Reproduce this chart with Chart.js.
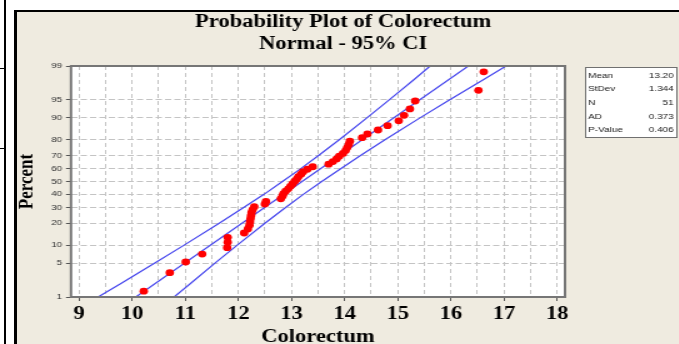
<!DOCTYPE html>
<html>
<head>
<meta charset="utf-8">
<title>Probability Plot of Colorectum</title>
<script src="https://cdn.jsdelivr.net/npm/chart.js@4.4.1/dist/chart.umd.min.js"></script>
<style>
  html, body { margin: 0; padding: 0; background: #fff; }
  #page { position: relative; width: 679px; height: 344px; overflow: hidden; background: #fff; }
  .rule { position: absolute; background: #000; }
  #frame {
    position: absolute; left: 14px; top: 10px; right: -10px; bottom: -10px;
    background: #efebe0; border-top: 2px solid #000; border-left: 3px solid #000;
  }
  /* the source picture is stretched sideways, so the canvas is too */
  #plot { position: absolute; left: 0; top: 0; transform: scaleX(1.25); transform-origin: 0 0; }
</style>
</head>
<body>
<div id="page">
  <div class="rule" style="left:4px; top:0; width:2px; height:344px;"></div>
  <div class="rule" style="left:0; top:68px; width:5px; height:1px;"></div>
  <div class="rule" style="left:0; top:148px; width:5px; height:1px;"></div>
  <div id="frame"></div>
  <canvas id="plot" width="544" height="344"></canvas>
</div>
<script>
// Colorectum values, sorted (x axis)
const colorectum = [
  10.22, 10.71, 11.01, 11.32, 11.79, 11.80, 11.80, 12.11, 12.18, 12.21,
  12.22, 12.23, 12.24, 12.25, 12.27, 12.30, 12.50, 12.52, 12.80, 12.83,
  12.85, 12.89, 12.94, 12.98, 13.02, 13.06, 13.10, 13.13, 13.18, 13.22,
  13.30, 13.40, 13.70, 13.78, 13.85, 13.90, 13.97, 14.02, 14.05, 14.08,
  14.10, 14.33, 14.43, 14.63, 14.81, 15.02, 15.12, 15.23, 15.33, 16.52,
  16.62
];
// plotted percent for each point
const percentRank = [
  1.36, 3.31, 5.25, 7.20, 9.14, 11.09, 13.04, 14.98, 16.93, 18.87,
  20.82, 22.76, 24.71, 26.65, 28.60, 30.54, 32.49, 34.44, 36.38, 38.33,
  40.27, 42.22, 44.16, 46.11, 48.05, 50.00, 51.95, 53.89, 55.84, 57.78,
  59.73, 61.67, 63.62, 65.56, 67.51, 69.46, 71.40, 73.35, 75.29, 77.24,
  79.18, 81.13, 83.07, 85.02, 86.96, 88.91, 90.86, 92.80, 94.75, 96.69,
  98.64
];

// fitted line and 95% CI bands
const fitPct = [1, 99];
const fitX = [10.07, 16.33];
const bandPct = [1, 2, 5, 10, 20, 30, 40, 50, 60, 70, 80, 90, 95, 98, 99];
const lowerX = [9.36, 9.79, 10.42, 10.98, 11.64, 12.10, 12.49, 12.83, 13.17, 13.51, 13.90, 14.42, 14.84, 15.31, 15.61];
const upperX = [10.79, 11.10, 11.56, 11.98, 12.50, 12.89, 13.23, 13.57, 13.92, 14.30, 14.76, 15.42, 15.98, 16.62, 17.04];

// axes
const xTicks = [9, 10, 11, 12, 13, 14, 15, 16, 17, 18];
const yTicks = [1, 5, 10, 20, 30, 40, 50, 60, 70, 80, 90, 95, 99];

// summary table
const statLabels = ['Mean', 'StDev', 'N', 'AD', 'P-Value'];
const statValues = ['13.20', '1.344', '51', '0.373', '0.406'];

const serif = '"Liberation Serif", "Times New Roman", serif';
const sans = '"Liberation Sans", Arial, sans-serif';
const blue = '#4646ee';

// inverse normal cdf (Acklam), used to put percent on a probability scale
function probit(p) {
    const a = [-3.969683028665376e+01, 2.209460984245205e+02, -2.759285104469687e+02, 1.383577518672690e+02, -3.066479806614716e+01, 2.506628277459239e+00];
    const b = [-5.447609879822406e+01, 1.615858368580409e+02, -1.556989798598866e+02, 6.680131188771972e+01, -1.328068155288572e+01];
    const c = [-7.784894002430293e-03, -3.223964580411365e-01, -2.400758277161838e+00, -2.549732539343734e+00, 4.374664141464968e+00, 2.938163982698783e+00];
    const d = [7.784695709041462e-03, 3.224671290700398e-01, 2.445134137142996e+00, 3.754408661907416e+00];
    const pl = 0.02425;
    let q, r;
    if (p < pl) {
        q = Math.sqrt(-2 * Math.log(p));
        return (((((c[0] * q + c[1]) * q + c[2]) * q + c[3]) * q + c[4]) * q + c[5]) / ((((d[0] * q + d[1]) * q + d[2]) * q + d[3]) * q + 1);
    }
    if (p <= 1 - pl) {
        q = p - 0.5; r = q * q;
        return (((((a[0] * r + a[1]) * r + a[2]) * r + a[3]) * r + a[4]) * r + a[5]) * q / (((((b[0] * r + b[1]) * r + b[2]) * r + b[3]) * r + b[4]) * r + 1);
    }
    q = Math.sqrt(-2 * Math.log(1 - p));
    return -(((((c[0] * q + c[1]) * q + c[2]) * q + c[3]) * q + c[4]) * q + c[5]) / ((((d[0] * q + d[1]) * q + d[2]) * q + d[3]) * q + 1);
}

function toPoints(xs, pcts) {
    return xs.map((x, i) => ({ x: x, y: probit(pcts[i] / 100) }));
}

// white plot area and grey border round it
const plotFrame = {
    id: 'plotFrame',
    beforeDraw(chart) {
        const { ctx, chartArea: a } = chart;
        ctx.save();
        ctx.fillStyle = '#fff';
        ctx.fillRect(a.left, a.top, a.width, a.height);
        ctx.restore();
    },
    afterDraw(chart) {
        const { ctx, chartArea: a } = chart;
        ctx.save();
        ctx.strokeStyle = '#767676';
        ctx.lineWidth = 2;
        ctx.strokeRect(a.left, a.top, a.width, a.height);
        ctx.restore();
    }
};

// Mean / StDev / N / AD / P-Value box
const statsBox = {
    id: 'statsBox',
    afterDraw(chart) {
        const ctx = chart.ctx;
        const left = 468, top = 67, w = 74, h = 71;
        ctx.save();
        ctx.fillStyle = '#fff';
        ctx.fillRect(left, top, w, h);
        ctx.strokeStyle = '#707070';
        ctx.lineWidth = 1;
        ctx.strokeRect(left + 0.5, top + 0.5, w - 1, h - 1);
        ctx.font = '8px ' + sans;
        ctx.fillStyle = '#1a1a1a';
        ctx.textBaseline = 'middle';
        statLabels.forEach((label, i) => {
            const y = top + 8.5 + i * 13.6;
            ctx.textAlign = 'left';
            ctx.fillText(label, left + 2.5, y);
            ctx.textAlign = 'right';
            ctx.fillText(statValues[i], left + w - 3, y);
        });
        ctx.restore();
    }
};

const ctx = document.getElementById('plot').getContext('2d');
const lastY = yTicks.length - 1;

new Chart(ctx, {
    type: 'scatter',
    data: {
        datasets: [
            {
                label: 'Colorectum',
                data: toPoints(colorectum, percentRank),
                backgroundColor: '#ff0000',
                borderWidth: 0,
                pointRadius: 3.4,
                pointHoverRadius: 3.4
            },
            {
                label: 'Fit',
                data: toPoints(fitX, fitPct),
                showLine: true,
                borderColor: blue,
                borderWidth: 1.2,
                pointRadius: 0
            },
            {
                label: 'Lower 95% CI',
                data: toPoints(lowerX, bandPct),
                showLine: true,
                borderColor: blue,
                borderWidth: 1.2,
                pointRadius: 0
            },
            {
                label: 'Upper 95% CI',
                data: toPoints(upperX, bandPct),
                showLine: true,
                borderColor: blue,
                borderWidth: 1.2,
                pointRadius: 0
            }
        ]
    },
    options: {
        responsive: false,
        animation: false,
        layout: { padding: { left: 5, right: 0, top: 0, bottom: 0 } },
        plugins: {
            legend: { display: false },
            tooltip: { enabled: false },
            title: {
                display: true,
                text: ['Probability Plot of Colorectum', 'Normal - 95% CI'],
                color: '#000',
                font: { family: serif, size: 18, weight: 'bold' },
                padding: { top: 12, bottom: 10.8 }
            }
        },
        scales: {
            x: {
                type: 'linear',
                min: 8.85,
                max: 18.15,
                afterBuildTicks: scale => {
                    // grid every half unit, labels on whole units
                    const t = [];
                    xTicks.forEach((v, i) => {
                        t.push({ value: v });
                        if (i < xTicks.length - 1) t.push({ value: v + 0.5 });
                    });
                    scale.ticks = t;
                },
                afterFit: scale => { scale.height = 47; },
                ticks: {
                    callback: v => (Number.isInteger(v) ? v : ''),
                    autoSkip: false,
                    maxRotation: 0,
                    padding: 3,
                    color: '#000',
                    font: { family: serif, size: 18, weight: 'bold' }
                },
                grid: {
                    color: '#c4c4c4',
                    tickColor: c => (c.tick && Number.isInteger(c.tick.value) ? '#555' : 'rgba(0,0,0,0)'),
                    tickLength: 4
                },
                border: { display: false, dash: [4, 3] },
                title: {
                    display: true,
                    text: 'Colorectum',
                    color: '#000',
                    font: { family: serif, size: 18, weight: 'bold' },
                    padding: { top: 0, bottom: -4 }
                }
            },
            y: {
                type: 'linear',
                min: probit(yTicks[0] / 100),
                max: probit(yTicks[lastY] / 100),
                afterBuildTicks: scale => {
                    scale.ticks = yTicks.map(p => ({ value: probit(p / 100) }));
                },
                afterFit: scale => { scale.width = 51.8; },
                ticks: {
                    callback: (v, i) => yTicks[i],
                    autoSkip: false,
                    padding: 3,
                    color: '#333',
                    font: { family: sans, size: 8 }
                },
                grid: {
                    color: c => (c.index === 0 || c.index === lastY ? 'rgba(0,0,0,0)' : '#c4c4c4'),
                    tickColor: '#555',
                    tickLength: 4
                },
                border: { display: false, dash: [5, 2.5] },
                title: {
                    display: true,
                    text: 'Percent',
                    color: '#000',
                    font: { family: serif, size: 17, weight: 'bold' },
                    padding: { top: 6.4, bottom: 0 }
                }
            },
            // empty axis that keeps room on the right for the summary table
            side: {
                type: 'linear',
                position: 'right',
                display: true,
                ticks: { display: false },
                grid: { display: false },
                border: { display: false },
                afterFit: scale => { scale.width = 92; }
            }
        }
    },
    plugins: [plotFrame, statsBox]
});
</script>
</body>
</html>
